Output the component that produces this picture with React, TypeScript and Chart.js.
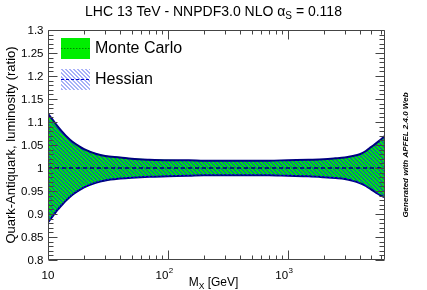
import React, { useEffect, useRef } from "react";
import { Chart, registerables } from "chart.js";

Chart.register(...registerables);

// ---- data ----
const massGeV = [10, 11, 12, 13, 14, 16, 18, 20, 25, 30, 40, 50, 70, 100, 150, 200, 300, 500, 700, 1000, 1500, 2000, 2500, 3000, 3500, 4000, 4500, 5000, 5500, 6000, 6500];
const mcUpper = [1.119, 1.105, 1.092, 1.081, 1.072, 1.058, 1.049, 1.042, 1.032, 1.027, 1.024, 1.021, 1.019, 1.018, 1.017, 1.017, 1.016, 1.016, 1.016, 1.017, 1.018, 1.019, 1.021, 1.023, 1.026, 1.030, 1.037, 1.046, 1.054, 1.062, 1.070];
const mcLower = [0.881, 0.895, 0.908, 0.918, 0.927, 0.941, 0.950, 0.957, 0.967, 0.972, 0.977, 0.979, 0.981, 0.982, 0.983, 0.983, 0.984, 0.984, 0.984, 0.983, 0.982, 0.980, 0.978, 0.976, 0.972, 0.967, 0.961, 0.953, 0.946, 0.940, 0.936];
const hessUpper = [1.118, 1.104, 1.091, 1.080, 1.071, 1.057, 1.048, 1.041, 1.031, 1.026, 1.023, 1.020, 1.018, 1.017, 1.017, 1.016, 1.016, 1.016, 1.016, 1.017, 1.018, 1.019, 1.021, 1.023, 1.026, 1.030, 1.037, 1.046, 1.054, 1.062, 1.070];
const hessLower = [0.882, 0.896, 0.909, 0.919, 0.928, 0.942, 0.951, 0.958, 0.968, 0.973, 0.977, 0.979, 0.981, 0.982, 0.983, 0.984, 0.984, 0.984, 0.984, 0.983, 0.982, 0.980, 0.978, 0.976, 0.972, 0.967, 0.961, 0.953, 0.946, 0.940, 0.936];
const centralValue = [1, 1, 1, 1, 1, 1, 1, 1, 1, 1, 1, 1, 1, 1, 1, 1, 1, 1, 1, 1, 1, 1, 1, 1, 1, 1, 1, 1, 1, 1, 1];

const yMajorTicks = [0.8, 0.85, 0.9, 0.95, 1.0, 1.05, 1.1, 1.15, 1.2, 1.25, 1.3];
const yTickLabels = ["0.8", "0.85", "0.9", "0.95", "1", "1.05", "1.1", "1.15", "1.2", "1.25", "1.3"];
const xMajorTicks = [10, 100, 1000];
const xTickBase = ["10", "10", "10"];
const xTickExp = ["", "2", "3"];

const titleMain = "LHC 13 TeV - NNPDF3.0 NLO \u03B1";
const titleSub = "S";
const titleTail = " = 0.118";
const yTitle = "Quark-Antiquark, luminosity (ratio)";
const xTitleMain = "M";
const xTitleSub = "X";
const xTitleTail = " [GeV]";
const sideNote = "Generated with APFEL 2.4.0 Web";
const legendMC = "Monte Carlo";
const legendHess = "Hessian";

const FONT = '"Liberation Sans", Arial, Helvetica, sans-serif';
const GREEN = "#00ee00";
const NAVY = "#000080";

function makeHatch(color: string): CanvasPattern | string {
  const c = document.createElement("canvas");
  c.width = 4;
  c.height = 4;
  const g = c.getContext("2d");
  if (!g) return color;
  g.fillStyle = color;
  for (let x = 0; x < 4; x++) {
    for (let y = 0; y < 4; y++) {
      if ((x - y + 8) % 4 < 2) g.fillRect(x, y, 1, 1);
    }
  }
  const p = g.createPattern(c, "repeat");
  return p || color;
}

const pts = (ys: number[]) => massGeV.map((m, i) => ({ x: m, y: ys[i] }));

export default function App() {
  const ref = useRef<HTMLCanvasElement | null>(null);

  useEffect(() => {
    const canvas = ref.current;
    if (!canvas) return;
    const hatch = makeHatch("rgba(25,45,225,0.62)");
    const legendHatch = makeHatch("rgba(60,80,240,0.45)");

    const framePlugin = {
      id: "rootFrame",
      beforeDraw(chart: any) {
        const ctx = chart.ctx;
        ctx.save();
        ctx.fillStyle = "#ffffff";
        ctx.fillRect(0, 0, chart.width, chart.height);
        ctx.restore();
      },
      afterDraw(chart: any) {
        const ctx: CanvasRenderingContext2D = chart.ctx;
        const xs = chart.scales.x;
        const ys = chart.scales.y;
        const L = Math.round(xs.getPixelForValue(10)) + 0.5;
        const R = Math.round(xs.getPixelForValue(6500)) - 0.5;
        const T = Math.round(ys.getPixelForValue(1.3)) + 0.5;
        const B = Math.round(ys.getPixelForValue(0.8)) - 0.5;
        ctx.save();
        ctx.strokeStyle = "#444444";
        ctx.lineWidth = 1;
        ctx.beginPath();
        ctx.rect(L, T, R - L, B - T);
        ctx.stroke();

        // y ticks
        ctx.beginPath();
        for (let k = 0; k <= 50; k++) {
          const v = 0.8 + k * 0.01;
          const py = Math.round(ys.getPixelForValue(v)) + 0.5;
          const len = k % 5 === 0 ? 9 : 5;
          ctx.moveTo(L, py);
          ctx.lineTo(L + len, py);
          ctx.moveTo(R, py);
          ctx.lineTo(R - len, py);
        }
        // x ticks
        for (let d = 1; d <= 3; d++) {
          for (let m = 1; m <= 9; m++) {
            const v = m * Math.pow(10, d);
            if (v > 6500) continue;
            const px = Math.round(xs.getPixelForValue(v)) + 0.5;
            const len = m === 1 ? 9 : 4;
            ctx.moveTo(px, B);
            ctx.lineTo(px, B - len);
            ctx.moveTo(px, T);
            ctx.lineTo(px, T + len);
          }
        }
        ctx.stroke();

        // y labels
        ctx.fillStyle = "#000000";
        ctx.font = `11.5px ${FONT}`;
        ctx.textAlign = "right";
        ctx.textBaseline = "middle";
        yMajorTicks.forEach((v, i) => {
          ctx.fillText(yTickLabels[i], L - 5, ys.getPixelForValue(v) + 0.5);
        });

        // x labels
        ctx.textBaseline = "alphabetic";
        ctx.textAlign = "left";
        xMajorTicks.forEach((v, i) => {
          const px = xs.getPixelForValue(v);
          ctx.font = `11.5px ${FONT}`;
          const wb = ctx.measureText(xTickBase[i]).width;
          ctx.font = `8px ${FONT}`;
          const we = xTickExp[i] ? ctx.measureText(xTickExp[i]).width : 0;
          const x0 = xTickExp[i] ? px - wb + 0.5 : px - wb / 2;
          ctx.font = `11.5px ${FONT}`;
          ctx.fillText(xTickBase[i], x0, 278.5);
          if (we) {
            ctx.font = `8px ${FONT}`;
            ctx.fillText(xTickExp[i], x0 + wb + 0.5, 272.5);
          }
        });

        // x title
        ctx.font = `12px ${FONT}`;
        const wM = ctx.measureText(xTitleMain).width;
        ctx.font = `8.5px ${FONT}`;
        const wX = ctx.measureText(xTitleSub).width;
        ctx.font = `12px ${FONT}`;
        const wT = ctx.measureText(xTitleTail).width;
        const xx = 213.5 - (wM + wX + wT) / 2;
        ctx.fillText(xTitleMain, xx, 285.5);
        ctx.font = `8.5px ${FONT}`;
        ctx.fillText(xTitleSub, xx + wM, 288.5);
        ctx.font = `12px ${FONT}`;
        ctx.fillText(xTitleTail, xx + wM + wX, 285.5);

        // title
        ctx.font = `14px ${FONT}`;
        const t1 = ctx.measureText(titleMain).width;
        ctx.font = `10px ${FONT}`;
        const t2 = ctx.measureText(titleSub).width;
        ctx.font = `14px ${FONT}`;
        const t3 = ctx.measureText(titleTail).width;
        const tx = 213.5 - (t1 + t2 + t3) / 2;
        ctx.fillText(titleMain, tx, 15.5);
        ctx.font = `10px ${FONT}`;
        ctx.fillText(titleSub, tx + t1, 18.5);
        ctx.font = `14px ${FONT}`;
        ctx.fillText(titleTail, tx + t1 + t2, 15.5);

        // y title
        ctx.save();
        ctx.translate(14.5, 145);
        ctx.rotate(-Math.PI / 2);
        ctx.font = `13px ${FONT}`;
        ctx.textAlign = "center";
        ctx.textBaseline = "alphabetic";
        ctx.fillText(yTitle, 0, 0);
        ctx.restore();

        // side note
        ctx.save();
        ctx.translate(408, 155);
        ctx.rotate(-Math.PI / 2);
        ctx.font = `italic bold 8px ${FONT}`;
        ctx.textAlign = "center";
        ctx.fillText(sideNote, 0, 0);
        ctx.restore();

        // legend
        ctx.fillStyle = GREEN;
        ctx.fillRect(61, 38, 29, 21);
        ctx.strokeStyle = "#008800";
        ctx.lineWidth = 1.2;
        ctx.setLineDash([1.5, 1.5]);
        ctx.beginPath();
        ctx.moveTo(61, 48.5);
        ctx.lineTo(90, 48.5);
        ctx.stroke();

        ctx.fillStyle = legendHatch as any;
        ctx.fillRect(61, 69, 29, 21);
        ctx.strokeStyle = "#0000cc";
        ctx.setLineDash([3, 2]);
        ctx.lineWidth = 1.2;
        ctx.beginPath();
        ctx.moveTo(61, 79.5);
        ctx.lineTo(90, 79.5);
        ctx.stroke();
        ctx.setLineDash([]);

        ctx.fillStyle = "#000000";
        ctx.font = `16px ${FONT}`;
        ctx.textAlign = "left";
        ctx.textBaseline = "middle";
        ctx.fillText(legendMC, 95, 49);
        ctx.fillText(legendHess, 95, 80);
        ctx.restore();
      },
    };

    const common = { pointRadius: 0, cubicInterpolationMode: "monotone" as const };

    const chart = new Chart(canvas, {
      type: "line",
      data: {
        datasets: [
          { label: "Hessian central", data: pts(centralValue), borderColor: NAVY, borderWidth: 1.6, borderDash: [4, 3], fill: false, order: 0, ...common },
          { label: "Hessian up", data: pts(hessUpper), borderColor: NAVY, borderWidth: 2, backgroundColor: hatch as any, fill: "+1", order: 1, ...common },
          { label: "Hessian down", data: pts(hessLower), borderColor: NAVY, borderWidth: 2, fill: false, order: 1, ...common },
          { label: "MC central", data: pts(centralValue), borderColor: "#008800", borderWidth: 1, borderDash: [1.5, 1.5], fill: false, order: 2, ...common },
          { label: "MC up", data: pts(mcUpper), borderColor: GREEN, borderWidth: 0, backgroundColor: GREEN, fill: "+1", order: 3, ...common },
          { label: "MC down", data: pts(mcLower), borderColor: GREEN, borderWidth: 0, fill: false, order: 3, ...common },
        ],
      },
      options: {
        animation: false,
        responsive: false,
        devicePixelRatio: 1,
        layout: { padding: { left: 48, right: 42, top: 30, bottom: 30 } },
        scales: {
          x: { type: "logarithmic", min: 10, max: 6500, display: false },
          y: { type: "linear", min: 0.8, max: 1.3, display: false },
        },
        plugins: { legend: { display: false }, tooltip: { enabled: false }, title: { display: false } },
      },
      plugins: [framePlugin],
    });
    return () => chart.destroy();
  }, []);

  return (
    <div style={{ position: "fixed", left: 0, top: 0, width: 427, height: 290 }}>
      <canvas ref={ref} width={427} height={290} style={{ display: "block", width: 427, height: 290 }} />
    </div>
  );
}
